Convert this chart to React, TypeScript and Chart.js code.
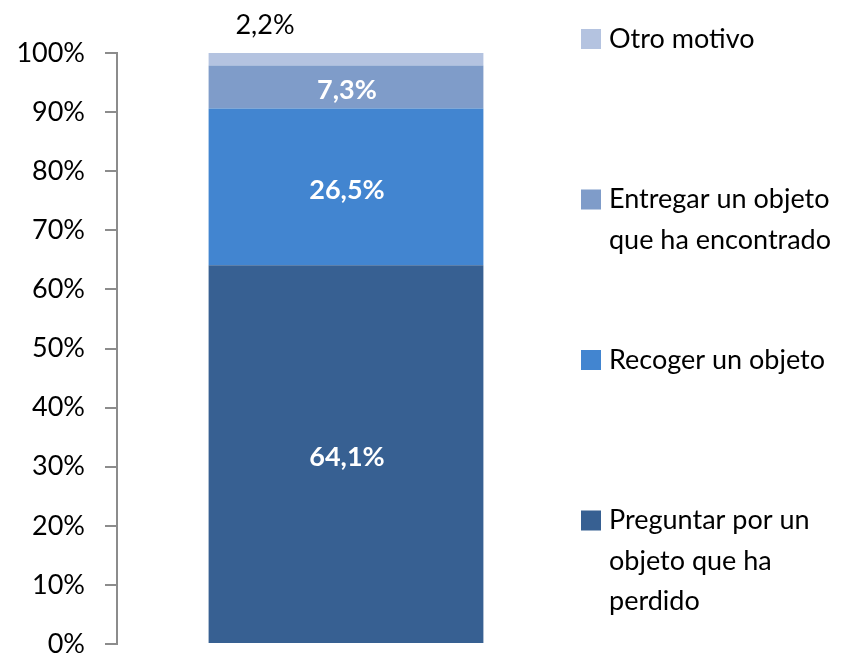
import React, { useEffect, useRef } from "react";
import { Chart, registerables } from "chart.js";

Chart.register(...registerables);

const categories = [""];
const seriesLabels = [
  ["Preguntar por un", "objeto que ha", "perdido"],
  ["Recoger un objeto"],
  ["Entregar un objeto", "que ha encontrado"],
  ["Otro motivo"],
];
const seriesValues = [64.1, 26.5, 7.3, 2.2];
const seriesColors = ["#376092", "#4285D0", "#7F9CC9", "#B4C3E0"];
const yTicks = [0, 10, 20, 30, 40, 50, 60, 70, 80, 90, 100];

const FONT = "Lato, 'Open Sans', sans-serif";

const fmt = (v: number) => v.toFixed(1).replace(".", ",") + "%";

const labelsPlugin = {
  id: "barLabels",
  afterDatasetsDraw(chart: any) {
    const ctx = chart.ctx;
    ctx.save();
    ctx.textAlign = "center";
    ctx.textBaseline = "middle";
    chart.data.datasets.forEach((ds: any, i: number) => {
      const meta = chart.getDatasetMeta(i);
      const el = meta.data[0];
      if (!el) return;
      const v = ds.data[0];
      if (v < 5) {
        ctx.font = `27px ${FONT}`;
        ctx.fillStyle = "#000000";
        ctx.fillText(fmt(v), el.x - 81, el.y - 27);
      } else {
        ctx.font = `bold 27px ${FONT}`;
        ctx.fillStyle = "#FFFFFF";
        ctx.fillText(fmt(v), el.x + 1, (el.y + el.base) / 2 + 3);
      }
    });
    ctx.restore();
  },
};

const legendPlugin = {
  id: "sideLegend",
  afterDraw(chart: any) {
    const ctx = chart.ctx;
    ctx.save();
    ctx.font = `27px ${FONT}`;
    ctx.textAlign = "left";
    ctx.textBaseline = "middle";
    const n = chart.data.datasets.length;
    for (let k = 0; k < n; k++) {
      const i = n - 1 - k;
      const ds = chart.data.datasets[i];
      const cy = 39 + 160.5 * k;
      ctx.fillStyle = ds.backgroundColor;
      ctx.fillRect(581, cy - 10, 20, 20);
      ctx.fillStyle = "#000000";
      const lines: string[] = ds.legendLines;
      lines.forEach((ln, j) => {
        ctx.fillText(ln, 609, cy + j * 40.5);
      });
    }
    ctx.restore();
  },
};

export default function App() {
  const ref = useRef<HTMLCanvasElement>(null);
  useEffect(() => {
    document.body.style.margin = "0";
    const chart = new Chart(ref.current!, {
      type: "bar",
      data: {
        labels: categories,
        datasets: seriesValues.map((v, i) => ({
          label: seriesLabels[i].join(" "),
          legendLines: seriesLabels[i],
          data: [v],
          backgroundColor: seriesColors[i],
          borderWidth: 0,
          barPercentage: 0.6,
          categoryPercentage: 1,
        })) as any,
      },
      options: {
        responsive: false,
        animation: false,
        maintainAspectRatio: false,
        layout: { padding: { left: 0, right: 282, top: 53, bottom: 13 } },
        plugins: { legend: { display: false }, tooltip: { enabled: false } },
        scales: {
          x: { stacked: true, display: false },
          y: {
            stacked: true,
            min: 0,
            max: 100,
            afterFit: (s: any) => {
              s.width = 117;
              s.paddingTop = 0;
              s.paddingBottom = 0;
            },
            afterBuildTicks: (s: any) => {
              s.ticks = yTicks.map((v) => ({ value: v }));
            },
            ticks: {
              padding: 20,
              color: "#000000",
              font: { family: FONT, size: 27 },
              callback: (v: any) => v + "%",
            },
            grid: {
              drawOnChartArea: false,
              drawTicks: true,
              tickLength: 12,
              color: "#8C8C8C",
              lineWidth: 2,
            },
            border: { display: true, color: "#8C8C8C", width: 2 },
          },
        },
      },
      plugins: [labelsPlugin, legendPlugin],
    });
    return () => chart.destroy();
  }, []);
  return (
    <div style={{ position: "absolute", left: 0, top: 0, width: 857, height: 657 }}>
      <canvas ref={ref} width={857} height={657} style={{ display: "block" }} />
    </div>
  );
}
